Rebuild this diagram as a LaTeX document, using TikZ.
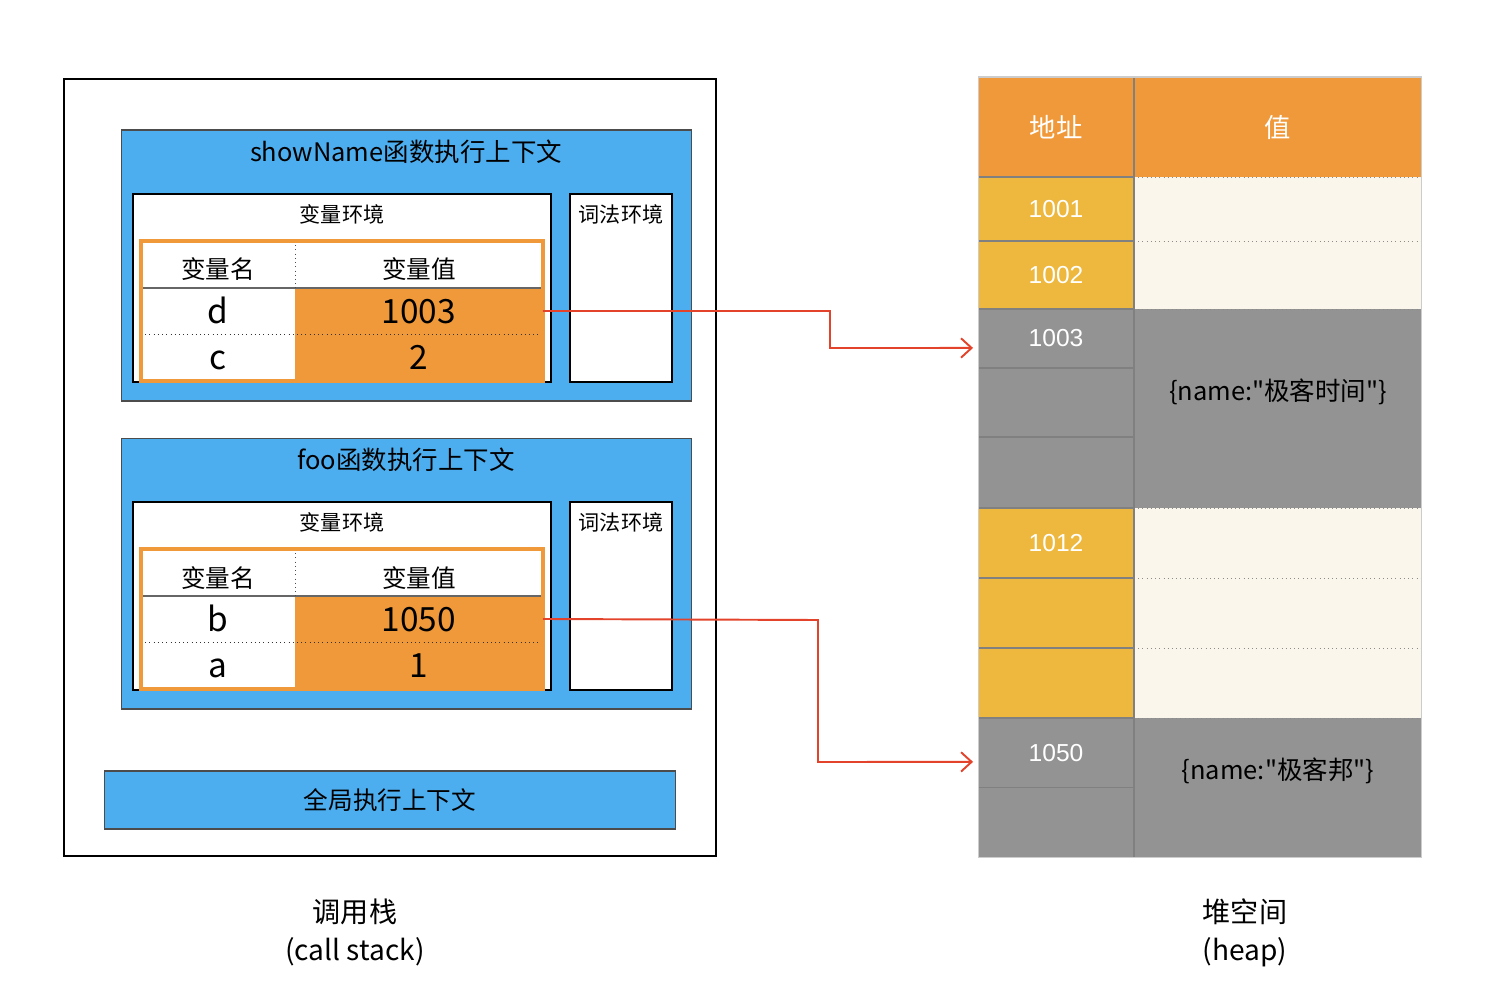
\documentclass[tikz,border=0pt]{standalone}
\usepackage{fontspec}
\setmainfont{Liberation Sans}
\newfontfamily\cjk{Noto Sans CJK SC}
\usepackage{tikz}
\usetikzlibrary{arrows.meta, positioning}
\usepackage{xcolor}
\definecolor{ctxblue}{HTML}{4DAEEF}
\definecolor{valorange}{HTML}{F0993A}
\definecolor{addryellow}{HTML}{EDB83D}
\definecolor{heapcream}{HTML}{FBF6EC}
\definecolor{heapgray}{HTML}{939393}
\definecolor{ptrred}{HTML}{E4432B}
\tikzstyle{ptr} = [-{Straight Barb[length=6pt, width=11pt]}, line width=1.1pt, color=ptrred]

\begin{document}
\begin{tikzpicture}[
    x=0.02cm, y=-0.02cm,
    every node/.style={inner sep=0pt, outer sep=0pt},
    stackframe/.style={rectangle, draw=black, line width=1.6pt},
    ctxbox/.style={rectangle, fill=ctxblue, draw=black!70, line width=0.6pt,
                   minimum width=11.42cm, minimum height=5.42cm},
    envbox/.style={rectangle, fill=white, draw=black, line width=1pt, minimum height=3.76cm},
    namecell/.style={rectangle, fill=white, minimum width=3.08cm, minimum height=0.92cm,
                     text height=0.5cm, text depth=0pt,
                     font=\cjk\fontsize{19}{22}\selectfont},
    valcell/.style={rectangle, fill=valorange, minimum width=4.96cm, minimum height=0.92cm,
                    text height=0.5cm, text depth=0pt,
                    font=\cjk\fontsize{19}{22}\selectfont},
    headcell/.style={rectangle, fill=white, minimum height=0.94cm,
                     text height=0.58cm, text depth=0pt,
                     font=\cjk\fontsize{14}{16}\selectfont},
    addrcell/.style={rectangle, fill=addryellow, minimum width=3.12cm, text=white,
                     font=\fontsize{14}{16}\selectfont},
    heapcell/.style={rectangle, fill=heapcream, minimum width=5.76cm},
    caption/.style={font=\cjk\fontsize{16}{19}\selectfont}
]
    \useasboundingbox (0,0) rectangle (1500,986);

    % Call stack frame
    \node[stackframe, minimum width=13.04cm, minimum height=15.54cm] (stack) at (390,467.5) {};

    % Function contexts: showName on top, foo below
    \foreach \fn/\dy/\ttl/\na/\va/\nb/\vb in {sn/0/showName/d/1003/c/2, foo/308/foo/b/1050/a/1}{
        \node[ctxbox] (\fn-ctx) at (406.5,{265.5+\dy}) {};
        \node[font=\cjk\fontsize{14.5}{17}\selectfont] (\fn-ttl) at (406,{152+\dy}) {\ttl 函数执行上下文};

        \node[envbox, minimum width=8.36cm] (\fn-var) at (342,{288+\dy}) {};
        \node[font=\cjk\fontsize{12}{14}\selectfont] (\fn-vart) at (342,{214+\dy}) {变量环境};
        \node[envbox, minimum width=2.04cm] (\fn-lex) at (621,{288+\dy}) {};
        \node[font=\cjk\fontsize{12}{14}\selectfont] (\fn-lext) at (621,{214+\dy}) {词法环境};

        \node[headcell, minimum width=3.08cm] (\fn-hn) at (218,{264.5+\dy}) {变量名};
        \node[headcell, minimum width=4.96cm, right=0pt of \fn-hn] (\fn-hv) {变量值};
        \node[namecell, below=0pt of \fn-hn] (\fn-n1) {\na};
        \node[valcell, right=0pt of \fn-n1] (\fn-v1) {\va};
        \node[namecell, below=0pt of \fn-n1] (\fn-n2) {\nb};
        \node[valcell, right=0pt of \fn-n2] (\fn-v2) {\vb};

        \draw[black!60, line width=0.6pt] (\fn-hn.south west) -- (\fn-hv.south east);
        \draw[dotted, black!70] (\fn-hn.north east) -- (\fn-hn.south east);
        \draw[dotted, black!80] (\fn-n1.south west) -- (\fn-v1.south east);
        \node[draw=valorange, line width=2pt, minimum width=8.04cm, minimum height=2.8cm]
            (\fn-tab) at (342,{311+\dy}) {};
    }

    % Global context
    \node[rectangle, fill=ctxblue, draw=black!70, line width=0.6pt, minimum width=11.44cm,
          minimum height=1.16cm, font=\cjk\fontsize{14}{16}\selectfont] (glob) at (390,800) {全局执行上下文};

    % Heap
    \node[rectangle, fill=valorange, minimum width=3.12cm, minimum height=2cm, text=white,
          font=\cjk\fontsize{15}{18}\selectfont] (h-addr) at (1056,127) {地址};
    \node[rectangle, fill=valorange, minimum width=5.76cm, minimum height=2cm, text=white,
          font=\cjk\fontsize{15}{18}\selectfont, right=0pt of h-addr] (h-val) {值};

    \node[addrcell, minimum height=1.28cm, below=0pt of h-addr] (a1) {1001};
    \node[addrcell, minimum height=1.36cm, below=0pt of a1] (a2) {1002};
    \node[addrcell, fill=heapgray, minimum height=1.18cm, below=0pt of a2] (a3) {1003};
    \node[addrcell, fill=heapgray, minimum height=1.38cm, below=0pt of a3] (a4) {};
    \node[addrcell, fill=heapgray, minimum height=1.42cm, below=0pt of a4] (a5) {};
    \node[addrcell, minimum height=1.4cm, below=0pt of a5] (a6) {1012};
    \node[addrcell, minimum height=1.4cm, below=0pt of a6] (a7) {};
    \node[addrcell, minimum height=1.4cm, below=0pt of a7] (a8) {};
    \node[addrcell, fill=heapgray, minimum height=1.4cm, below=0pt of a8] (a9) {1050};
    \node[addrcell, fill=heapgray, minimum height=1.4cm, below=0pt of a9] (a10) {};

    \node[heapcell, minimum height=1.28cm, right=0pt of a1] (v1) {};
    \node[heapcell, minimum height=1.36cm, right=0pt of a2] (v2) {};
    \node[heapcell, fill=heapgray, minimum height=3.98cm, below=0pt of v2] (v3) {};
    \node[heapcell, minimum height=1.4cm, right=0pt of a6] (v6) {};
    \node[heapcell, minimum height=1.4cm, right=0pt of a7] (v7) {};
    \node[heapcell, minimum height=1.4cm, right=0pt of a8] (v8) {};
    \node[heapcell, fill=heapgray, minimum height=2.8cm, below=0pt of v8] (v9) {};

    \node[font=\cjk\fontsize{14.5}{17}\selectfont] (obj1) at (1278,392) {\{name:"极客时间"\}};
    \node[font=\cjk\fontsize{14.5}{17}\selectfont] (obj2) at (1278,771) {\{name:"极客邦"\}};

    % Heap grid lines
    \foreach \r in {h-addr,a1,a2,a3,a4,a5,a6,a7,a8,a9}
        \draw[black!50, line width=0.7pt] (\r.south west) -- (\r.south east);
    \foreach \r in {h-val,v1,v2,v3,v6,v7,v8}
        \draw[dotted, black!45] (\r.south west) -- (\r.south east);
    \draw[black!50, line width=0.6pt] (h-addr.north east) -- (a10.south east);
    \draw[black!20, line width=0.6pt] (h-addr.north west) rectangle (v9.south east);

    % Pointers
    \draw[ptr] (sn-v1.east) -- (830,311) -- (830,348) -- ([xshift=-0.1cm, yshift=-0.19cm]a3.west);
    \draw[ptr] (foo-v1.east) -- (818,620) -- (818,762) -- ([xshift=-0.1cm, yshift=-0.18cm]a9.west);

    % Captions
    \node[caption] (cs) at (355,912) {调用栈};
    \node[caption, below=0.25cm of cs] (cs-en) {(call stack)};
    \node[caption] (hp) at (1245,912) {堆空间};
    \node[caption, below=0.25cm of hp] (hp-en) {(heap)};

\end{tikzpicture}
\end{document}
